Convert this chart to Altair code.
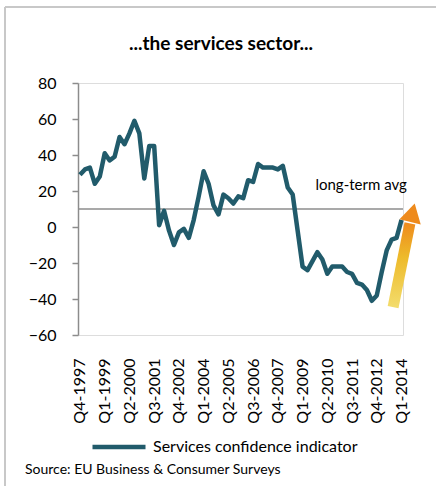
import altair as alt
import pandas as pd

# ---- data ----
values = [29, 32, 33, 24, 28, 41, 37, 39, 50, 46, 52, 59, 52, 27, 45, 45,
          1, 9, -2, -10, -3, -1, -6, 4, 17, 31, 24, 12, 7, 18, 16, 13,
          17, 16, 26, 25, 35, 33, 33, 33, 32, 34, 22, 18, -2, -22, -24, -19,
          -14, -18, -26, -22, -22, -22, -25, -26, -31, -32, -35, -41, -38, -25,
          -13, -7, -6, 4]
tick_labels = ["Q4-1997", "Q1-1999", "Q2-2000", "Q3-2001", "Q4-2002", "Q1-2004",
               "Q2-2005", "Q3-2006", "Q4-2007", "Q1-2009", "Q2-2010", "Q3-2011",
               "Q4-2012", "Q1-2014"]
tick_positions = [0, 5, 10, 15, 20, 25, 30, 35, 40, 45, 50, 55, 60, 65]
y_ticks = [-60, -40, -20, 0, 20, 40, 60, 80]
long_term_avg = 10
series_name = "Services confidence indicator"
title_text = "...the services sector..."
source_text = "Source: EU Business & Consumer Surveys"
arrow_x = [63.3, 66.7]
arrow_y = [-44.5, 2]
arrow_head_x = [67.2]
arrow_head_y = [8]

df = pd.DataFrame({"q": list(range(len(values))), "v": values,
                   "series": [series_name] * len(values)})

FONT = "Lato"
LINE = "#215B6B"
GRAY = "#8C8C8C"

label_expr = "{" + ",".join(f"'{p}':'{l}'" for p, l in zip(tick_positions, tick_labels)) + "}[datum.value]"

xscale = alt.Scale(domain=[-0.4, 65.3], nice=False, zero=False)
yscale = alt.Scale(domain=[-60, 80], nice=False)

x_axis = alt.Axis(values=tick_positions, labelExpr=label_expr, labelAngle=270,
                  labelAlign="right", labelBaseline="middle",
                  domain=False, ticks=False, grid=False, title=None,
                  labelFont=FONT, labelFontSize=16, labelColor="#000",
                  labelPadding=23, labelOverlap=False, labelFlush=False,
                  labelSeparation=0)
y_axis = alt.Axis(values=y_ticks, domainColor=GRAY,
                  tickColor=GRAY, tickSize=6, domainWidth=1.5, tickWidth=1.5,
                  grid=False, title=None, labelFont=FONT, labelFontSize=16,
                  labelColor="#000", labelPadding=16, labelOverlap=False,
                  labelFlush=False, labelSeparation=0)


def X(field):
    return alt.X(field, scale=xscale, axis=x_axis)


def Y(field):
    return alt.Y(field, scale=yscale, axis=y_axis)


line = alt.Chart(df).mark_line(strokeWidth=4.5, strokeJoin="round").encode(
    x=X("q:Q"), y=Y("v:Q"),
    color=alt.Color("series:N", scale=alt.Scale(range=[LINE]),
                    legend=alt.Legend(orient="none", legendX=12, legendY=335,
                                      title=None, symbolType="stroke",
                                      symbolStrokeWidth=4.5, symbolSize=2809,
                                      labelFont=FONT, labelFontSize=16,
                                      labelColor="#000", padding=0,
                                      labelOffset=5, labelLimit=0)),
)

avg = alt.Chart(pd.DataFrame({"y": [long_term_avg]})).mark_rule(
    color=GRAY, strokeWidth=1.5).encode(y=Y("y:Q"))

avg_text = alt.Chart(pd.DataFrame({"x": [47.6], "y": [23.5], "t": ["long-term avg"]})).mark_text(
    align="left", baseline="middle", font=FONT, fontSize=15, color="#000").encode(
    x=X("x:Q"), y=Y("y:Q"), text="t:N")

grad = alt.Gradient(gradient="linear",
                    stops=[alt.GradientStop(color="#F3DC6C", offset=0),
                           alt.GradientStop(color="#EDBA2A", offset=0.6),
                           alt.GradientStop(color="#EE8B1E", offset=1)],
                    x1=0, x2=0, y1=1, y2=0)
arrow = alt.Chart(pd.DataFrame({"x": arrow_x, "y": arrow_y})).mark_line(
    strokeWidth=11, strokeCap="butt", color=grad).encode(x=X("x:Q"), y=Y("y:Q"))
head = alt.Chart(pd.DataFrame({"x": arrow_head_x, "y": arrow_head_y})).mark_point(
    shape="triangle-up", filled=True, opacity=1, size=480, angle=14,
    color="#EE8A1C").encode(x=X("x:Q"), y=Y("y:Q"))

title = alt.Chart(pd.DataFrame({"t": [title_text]})).mark_text(
    align="center", baseline="middle", font=FONT, fontSize=19, fontWeight="bold",
    color="#000").encode(x=alt.value(143), y=alt.value(-39), text="t:N")

source = alt.Chart(pd.DataFrame({"t": [source_text]})).mark_text(
    align="left", baseline="middle", font=FONT, fontSize=14, color="#000").encode(
    x=alt.value(-53), y=alt.value(387), text="t:N")

frame_v = alt.Chart(pd.DataFrame({"a": [0]})).mark_rule(color="#C8C8C8", strokeWidth=2).encode(
    x=alt.value(-73), y=alt.value(-76), y2=alt.value(410))
frame_h = alt.Chart(pd.DataFrame({"a": [0]})).mark_rule(color="#C8C8C8", strokeWidth=2).encode(
    x=alt.value(-73), x2=alt.value(370), y=alt.value(-76))

chart = alt.layer(frame_v, frame_h, avg, line, avg_text, arrow, head, title, source).properties(
    width=325, height=252,
    autosize=alt.AutoSizeParams(type="none"),
    padding={"left": 78, "top": 83, "right": 33, "bottom": 151},
).configure_view(stroke=None).configure(background="white")

chart.save("out.html", embed_options={"renderer": "svg", "actions": False})
